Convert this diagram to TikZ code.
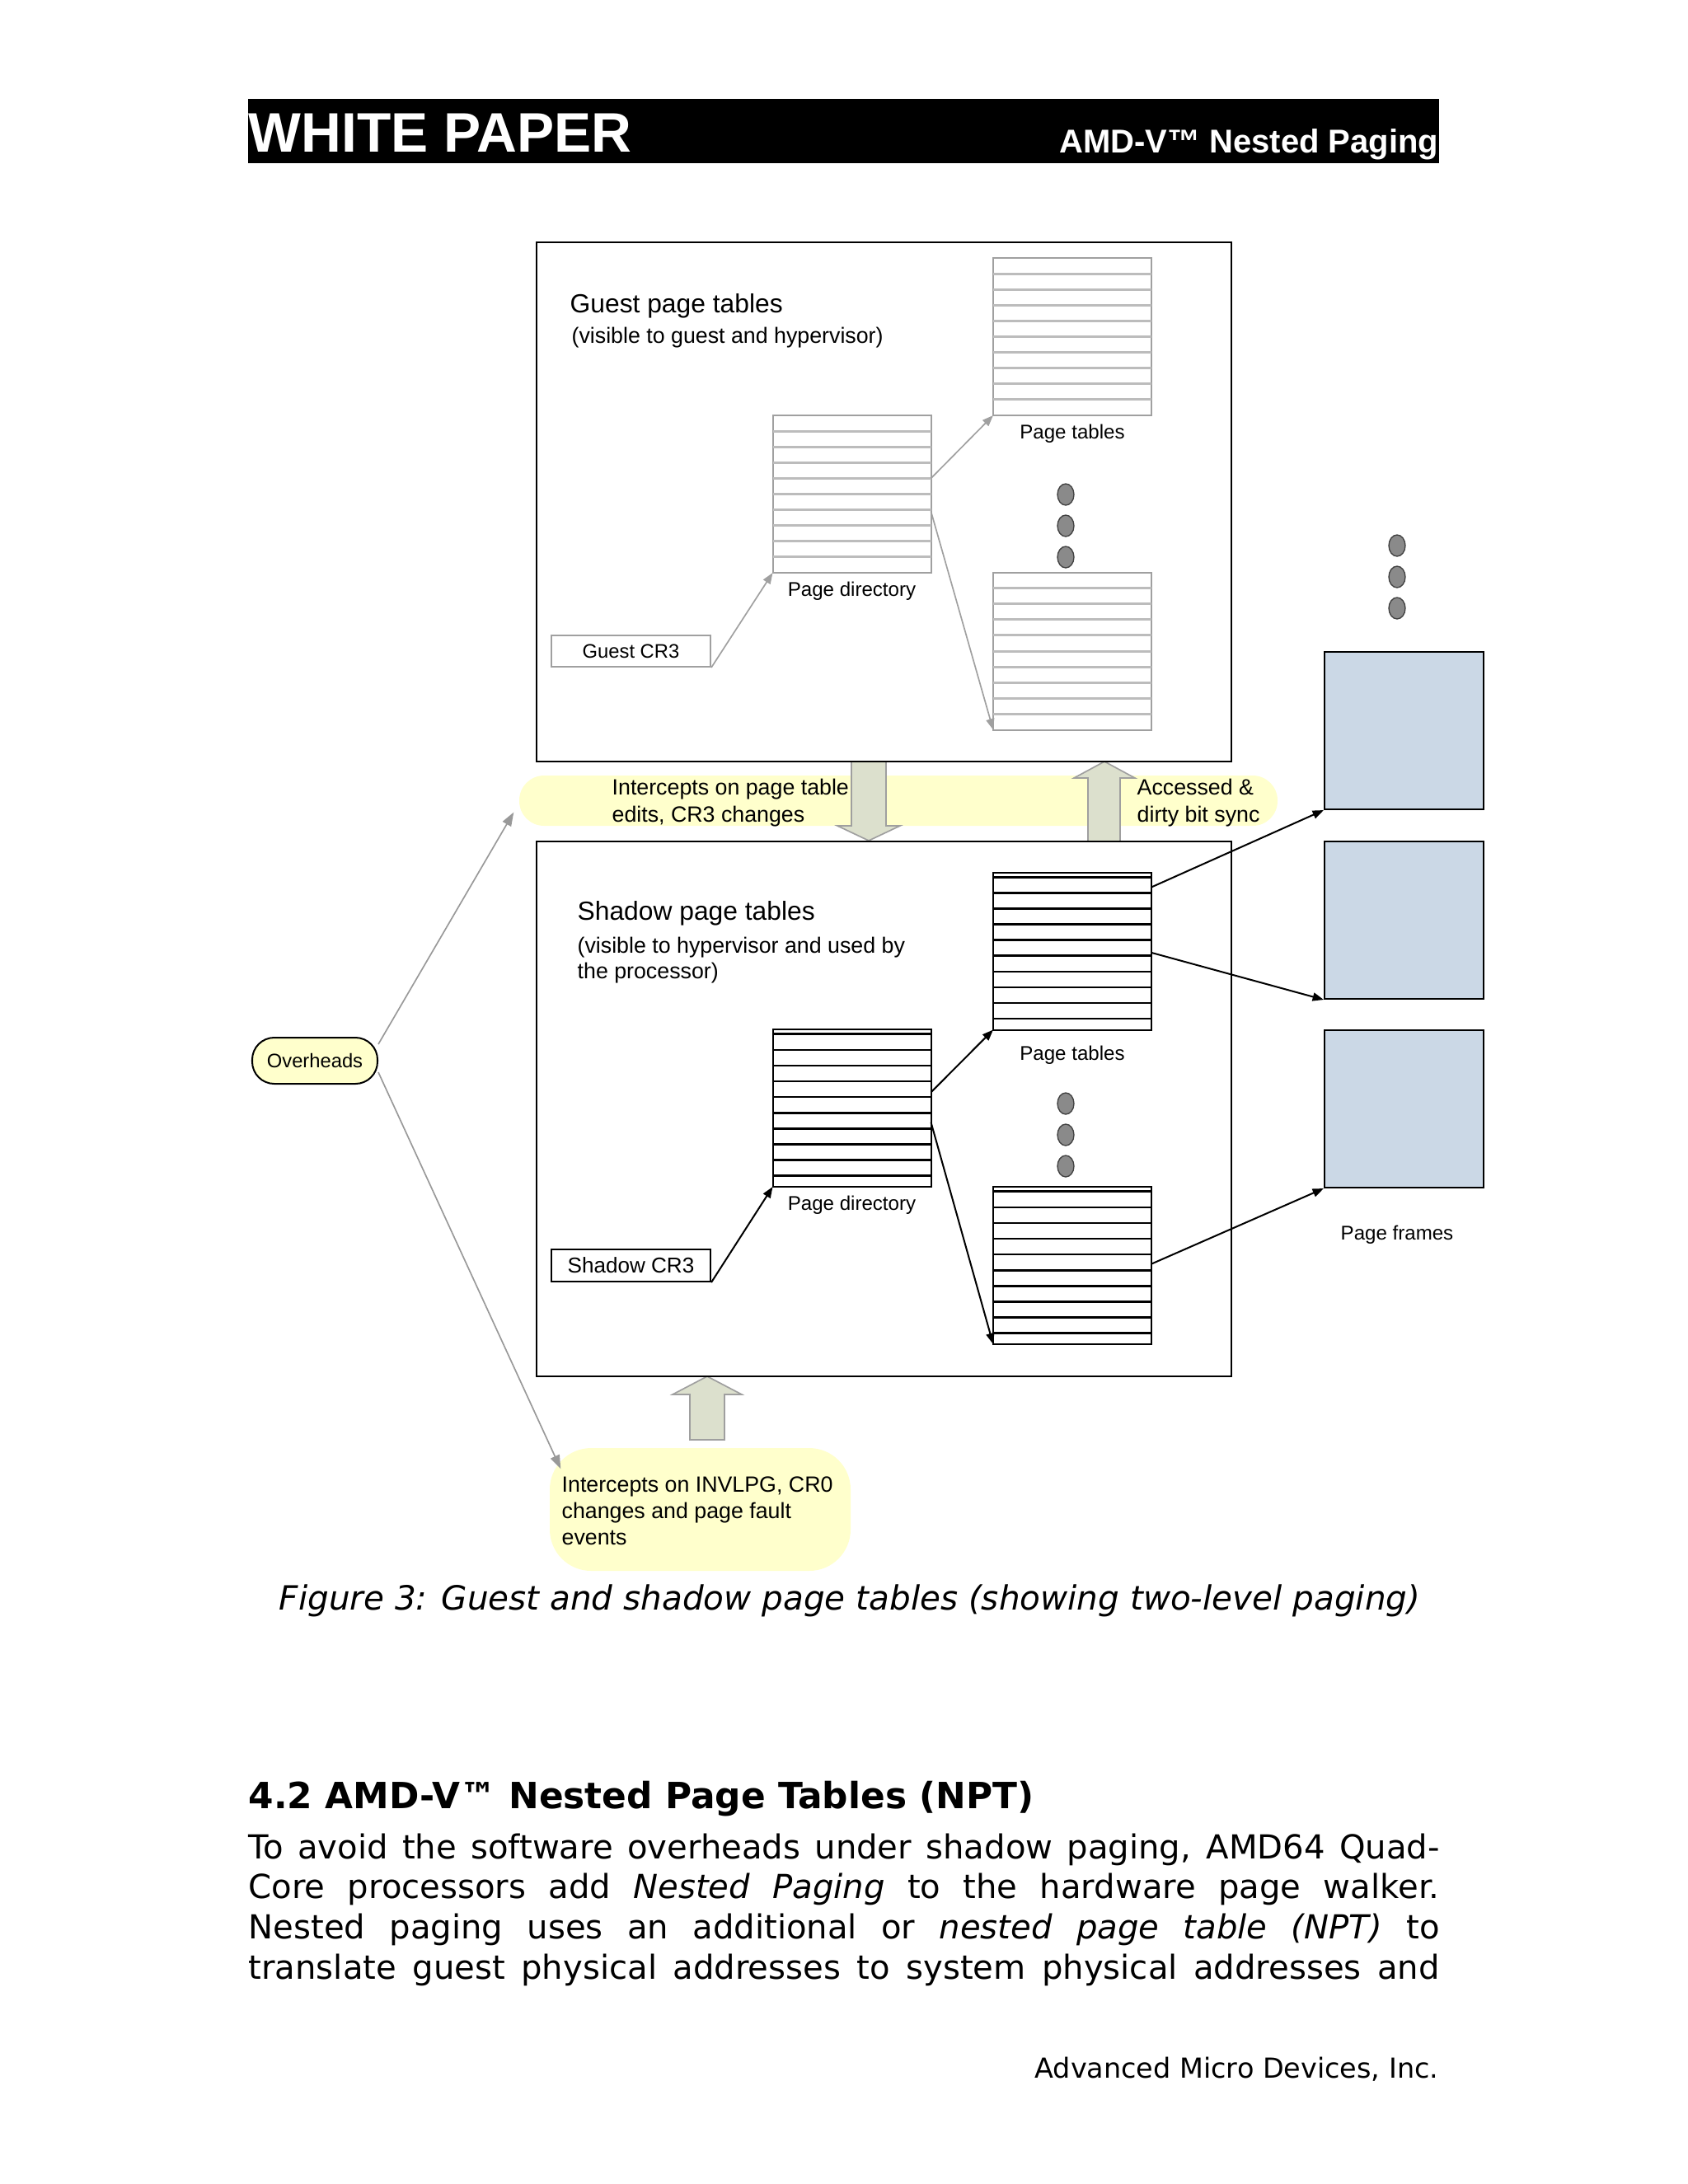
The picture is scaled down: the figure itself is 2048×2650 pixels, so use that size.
\documentclass[tikz,border=0pt]{standalone}
\usepackage{fontspec}
\setmainfont{DejaVu Sans}
\newfontfamily\arial{Liberation Sans}
\usetikzlibrary{positioning,calc,arrows.meta}

\newdimen\px \px=0.29883pt

\definecolor{noteyellow}{HTML}{FFFFCC}
\definecolor{framefill}{HTML}{CBD8E6}
\definecolor{blockfill}{HTML}{DCE0CD}
\definecolor{gridgray}{HTML}{A0A0A0}
\definecolor{dotgray}{HTML}{8A8A8A}

\tikzset{
  lbl/.style={font=\arial\fontsize{7.2}{8.6}\selectfont, inner sep=0},
  ptable/.style={draw=#1, line width=0.6pt, minimum width=192\px, minimum height=191\px, inner sep=0, outer sep=0},
  cr3box/.style={draw=#1, line width=0.6pt, minimum width=193\px, minimum height=38\px, inner sep=0},
  garrow/.style={gridgray, line width=0.5pt, -{Triangle[length=4pt,width=3pt]}},
  sarrow/.style={black, line width=0.6pt, -{Triangle[length=4pt,width=3pt]}},
  oarrow/.style={gray!80, line width=0.5pt, -{Triangle[length=5pt,width=3.5pt]}},
  pframe/.style={draw=black, fill=framefill, line width=0.6pt, minimum width=193\px, minimum height=191\px, inner sep=0},
  blockarrow/.style={fill=blockfill, draw=gray!75, line width=0.5pt},
  note/.style={fill=noteyellow, inner sep=0},
  dotfill/.style={fill=dotgray, draw=black!75, line width=0.4pt}
}

\begin{document}
\begin{tikzpicture}[x=0.29883pt, y=-0.29883pt]
  \useasboundingbox (0,0) rectangle (2048,2650);

  % header bar
  \fill[black] (301,120) rectangle (1746,198);
  \node[anchor=base west, inner sep=0, text=white, font=\arial\bfseries\fontsize{20.2}{24}\selectfont] (hdl) at (301,184) {WHITE PAPER};
  \node[anchor=base east, inner sep=0, text=white, font=\arial\bfseries\fontsize{11.95}{15}\selectfont] (hdr) at (1746,185) {AMD-V™ Nested Paging};

  % yellow notes
  \node[note, rounded corners=9pt, minimum width=920\px, minimum height=61\px] (band) at (1090,971.5) {};
  \node[note, rounded corners=15pt, minimum width=365\px, minimum height=149\px] (blob) at (849.5,1831.5) {};

  % block arrows
  \draw[blockarrow] (1033,924) -- (1075,924) -- (1075,1002) -- (1092,1002) -- (1054,1020) -- (1016,1002) -- (1033,1002) -- cycle;
  \draw[blockarrow] (1320,1021) -- (1320,944) -- (1303,944) -- (1340,924) -- (1377,944) -- (1359,944) -- (1359,1021) -- cycle;
  \draw[blockarrow] (837,1747) -- (837,1692) -- (816,1692) -- (858,1670) -- (900,1692) -- (879,1692) -- (879,1747) -- cycle;

  % guest and shadow boxes
  \draw[line width=0.7pt] (651,294) rectangle (1494,924);
  \draw[line width=0.7pt] (651,1021) rectangle (1494,1670);

  \node[anchor=west, inner sep=0, font=\arial\fontsize{9.5}{11}\selectfont] (gtitle) at (691,371) {Guest page tables};
  \node[anchor=west, inner sep=0, font=\arial\fontsize{8}{9.6}\selectfont] (gsub) at (693,410) {(visible to guest and hypervisor)};
  \node[anchor=west, inner sep=0, font=\arial\fontsize{9.5}{11}\selectfont] (stitle) at (700,1108) {Shadow page tables};
  \node[anchor=west, inner sep=0, align=left, font=\arial\fontsize{8}{9.3}\selectfont] (ssub) at (700,1165) {(visible to hypervisor and used by\\the processor)};

  % guest tables
  \node[ptable=gridgray] (gpt1) at (1301,408.5) {};
  \node[ptable=gridgray] (gpt2) at (1301,790) {};
  \node[ptable=gridgray] (gpd) at (1033.5,599.5) {};
  \foreach \t in {gpt1,gpt2,gpd}
    \foreach \k in {1,...,9}
      \draw[gridgray!70, line width=0.9pt] ($(\t.north west)!\k/10!(\t.south west)$) -- ($(\t.north east)!\k/10!(\t.south east)$);
  \node[lbl, below=3pt of gpt1] (gptl) {Page tables};
  \node[lbl, below=3pt of gpd] (gpdl) {Page directory};
  \node[cr3box=gridgray, font=\arial\fontsize{7.1}{8.5}\selectfont] (gcr3) at (765.5,790) {Guest CR3};

  % shadow tables
  \node[ptable=black] (spt1) at (1301,1154) {};
  \node[ptable=black] (spt2) at (1301,1535.5) {};
  \node[ptable=black] (spd) at (1033.5,1344.5) {};
  \foreach \t in {spt1,spt2,spd}
    \foreach \f in {0.03,0.13,0.23,0.33,0.43,0.53,0.63,0.73,0.83,0.93}
      \draw[black, line width=0.8pt] ($(\t.north west)!\f!(\t.south west)$) -- ($(\t.north east)!\f!(\t.south east)$);
  \node[lbl, below=5.5pt of spt1] (sptl) {Page tables};
  \node[lbl, below=3pt of spd] (spdl) {Page directory};
  \node[cr3box=black, minimum height=39\px, font=\arial\fontsize{7.8}{9.4}\selectfont] (scr3) at (765.5,1535.5) {Shadow CR3};

  % page frames
  \node[pframe] (pf1) at (1703.5,886.5) {};
  \node[pframe] (pf2) at (1703.5,1116.5) {};
  \node[pframe] (pf3) at (1703.5,1345.5) {};
  \node[lbl] (pfl) at (1695,1498) {Page frames};

  % dots
  \foreach \x/\y in {1293/600, 1293/638, 1293/676, 1293/1339, 1293/1377, 1293/1415, 1695/662, 1695/700, 1695/738}
    \draw[dotfill] (\x,\y) ellipse [x radius=10, y radius=13];

  % pointers
  \draw[garrow] (gcr3.south east) -- (gpd.south west);
  \draw[garrow] ($(gpd.north east)!0.4!(gpd.south east)$) -- (gpt1.south west);
  \draw[garrow] ($(gpd.north east)!0.61!(gpd.south east)$) -- (gpt2.south west);
  \draw[sarrow] (scr3.south east) -- (spd.south west);
  \draw[sarrow] ($(spd.north east)!0.4!(spd.south east)$) -- (spt1.south west);
  \draw[sarrow] ($(spd.north east)!0.59!(spd.south east)$) -- (spt2.south west);
  \draw[sarrow] ($(spt1.north east)!0.094!(spt1.south east)$) -- (pf1.south west);
  \draw[sarrow] ($(spt1.north east)!0.51!(spt1.south east)$) -- (pf2.south west);
  \draw[sarrow] ($(spt2.north east)!0.49!(spt2.south east)$) -- (pf3.south west);

  % overheads
  \node[draw=black, fill=noteyellow, line width=0.6pt, rounded corners=8pt, minimum width=152\px, minimum height=56\px, inner sep=0, font=\arial\fontsize{7.1}{8.5}\selectfont] (ovh) at (382,1287) {Overheads};
  \draw[oarrow] ($(ovh.east)+(0,-20)$) -- ($(band.west)+(-6,14)$);
  \draw[oarrow] ($(ovh.east)+(0,14)$) -- ($(blob.north west)+(14,26)$);

  % note texts
  \node[anchor=west, inner sep=0, align=left, font=\arial\fontsize{8}{9.6}\selectfont] (ntop) at (742,974) {Intercepts on page table\\edits, CR3 changes};
  \node[anchor=west, inner sep=0, align=left, font=\arial\fontsize{8}{9.6}\selectfont] (nsync) at (1379,974) {Accessed \&\\dirty bit sync};
  \node[anchor=west, inner sep=0, align=left, font=\arial\fontsize{8}{9.6}\selectfont] (nbot) at (681,1833) {Intercepts on INVLPG, CR0\\changes and page fault\\events};

  % caption and page text
  \node[inner sep=0, font=\itshape\fontsize{12.1}{14.5}\selectfont] (cap) at (1031,1942) {Figure 3: Guest and shadow page tables (showing two-level paging)};
  \node[anchor=base west, inner sep=0, font=\bfseries\fontsize{13.1}{15.6}\selectfont] (sec) at (301,2194) {4.2 AMD-V™ Nested Page Tables (NPT)};
  \node[anchor=north west, inner sep=0, align=left, font=\fontsize{12}{14.55}\selectfont] (para) at (301,2224) {%
    \makebox[1445\px][s]{To avoid the software overheads under shadow paging, AMD64 Quad-}\\
    \makebox[1445\px][s]{Core processors add \textit{Nested Paging} to the hardware page walker.}\\
    \makebox[1445\px][s]{Nested paging uses an additional or \textit{nested page table (NPT)} to}\\
    \makebox[1445\px][s]{translate guest physical addresses to system physical addresses and}};
  \node[anchor=east, inner sep=0, font=\fontsize{10}{12}\selectfont] (foot) at (1746,2511) {Advanced Micro Devices, Inc.};
\end{tikzpicture}
\end{document}
